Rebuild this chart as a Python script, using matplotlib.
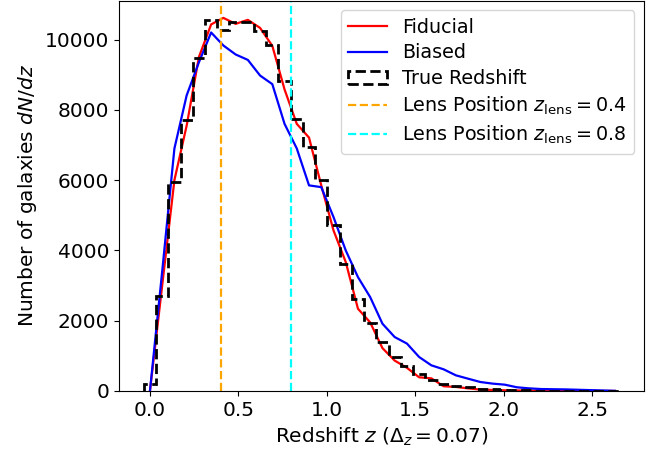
import numpy as np
import matplotlib
matplotlib.use("Agg")
import matplotlib.pyplot as plt

plt.rcParams['font.size'] = 14.5

# redshift grid (bin centres, dz ~ 0.07)
z = np.arange(39) * 0.0692
edges = np.append(z - 0.0346, z[-1] + 0.0346)

fiducial = [0, 3000, 6000, 7550, 9500, 10430, 10615, 10445, 10560, 10330,
            9820, 8580, 7600, 7210, 5850, 4570, 3670, 2340, 1950, 1220,
            865, 660, 390, 360, 135, 115, 75, 40, 30, 20,
            15, 10, 8, 6, 5, 4, 3, 2, 1]
biased = [0, 3400, 6900, 8410, 9350, 10200, 9830, 9575, 9420, 8975,
          8730, 7600, 6900, 5850, 5800, 4950, 4000, 3240, 2670, 1915,
          1535, 1350, 967, 730, 617, 446, 350, 256, 210, 180,
          105, 75, 55, 50, 45, 35, 25, 15, 5]
true_z = [210, 2690, 5940, 7700, 9480, 10560, 10275, 10490, 10490, 10235,
          9830, 8830, 7745, 6940, 5990, 4710, 3620, 2625, 1935, 1395,
          967, 700, 495, 325, 190, 130, 110, 60, 45, 30,
          20, 15, 10, 8, 6, 4, 3, 2, 1]

z_lens = [0.4, 0.8]
lens_colors = ['orange', 'cyan']

fig = plt.figure(figsize=(6.61, 4.54), dpi=100)
ax = fig.add_axes([119/661, 1 - 391/454, 525/661, 390.5/454])

ax.plot(z, fiducial, color='red', lw=1.6, label='Fiducial')
ax.plot(z, biased, color='blue', lw=1.6, label='Biased')
ax.hist(z, bins=edges, weights=true_z, histtype='step', color='black',
        ls='--', lw=2, label='True Redshift')
for zl, c in zip(z_lens, lens_colors):
    ax.axvline(zl, color=c, ls='--', lw=1.6,
               label=r'Lens Position $z_{\mathrm{lens}} = %.1f$' % zl)

ax.set_xlim(-0.175, 2.794)
ax.set_ylim(0, 11110)
ax.set_xlabel(r'Redshift $z$ ($\Delta_z = 0.07$)')
ax.set_ylabel(r'Number of galaxies $dN/dz$')
ax.legend(loc='upper right', fontsize=13.8, labelspacing=0.35)

fig.savefig('out.png', dpi=100)
